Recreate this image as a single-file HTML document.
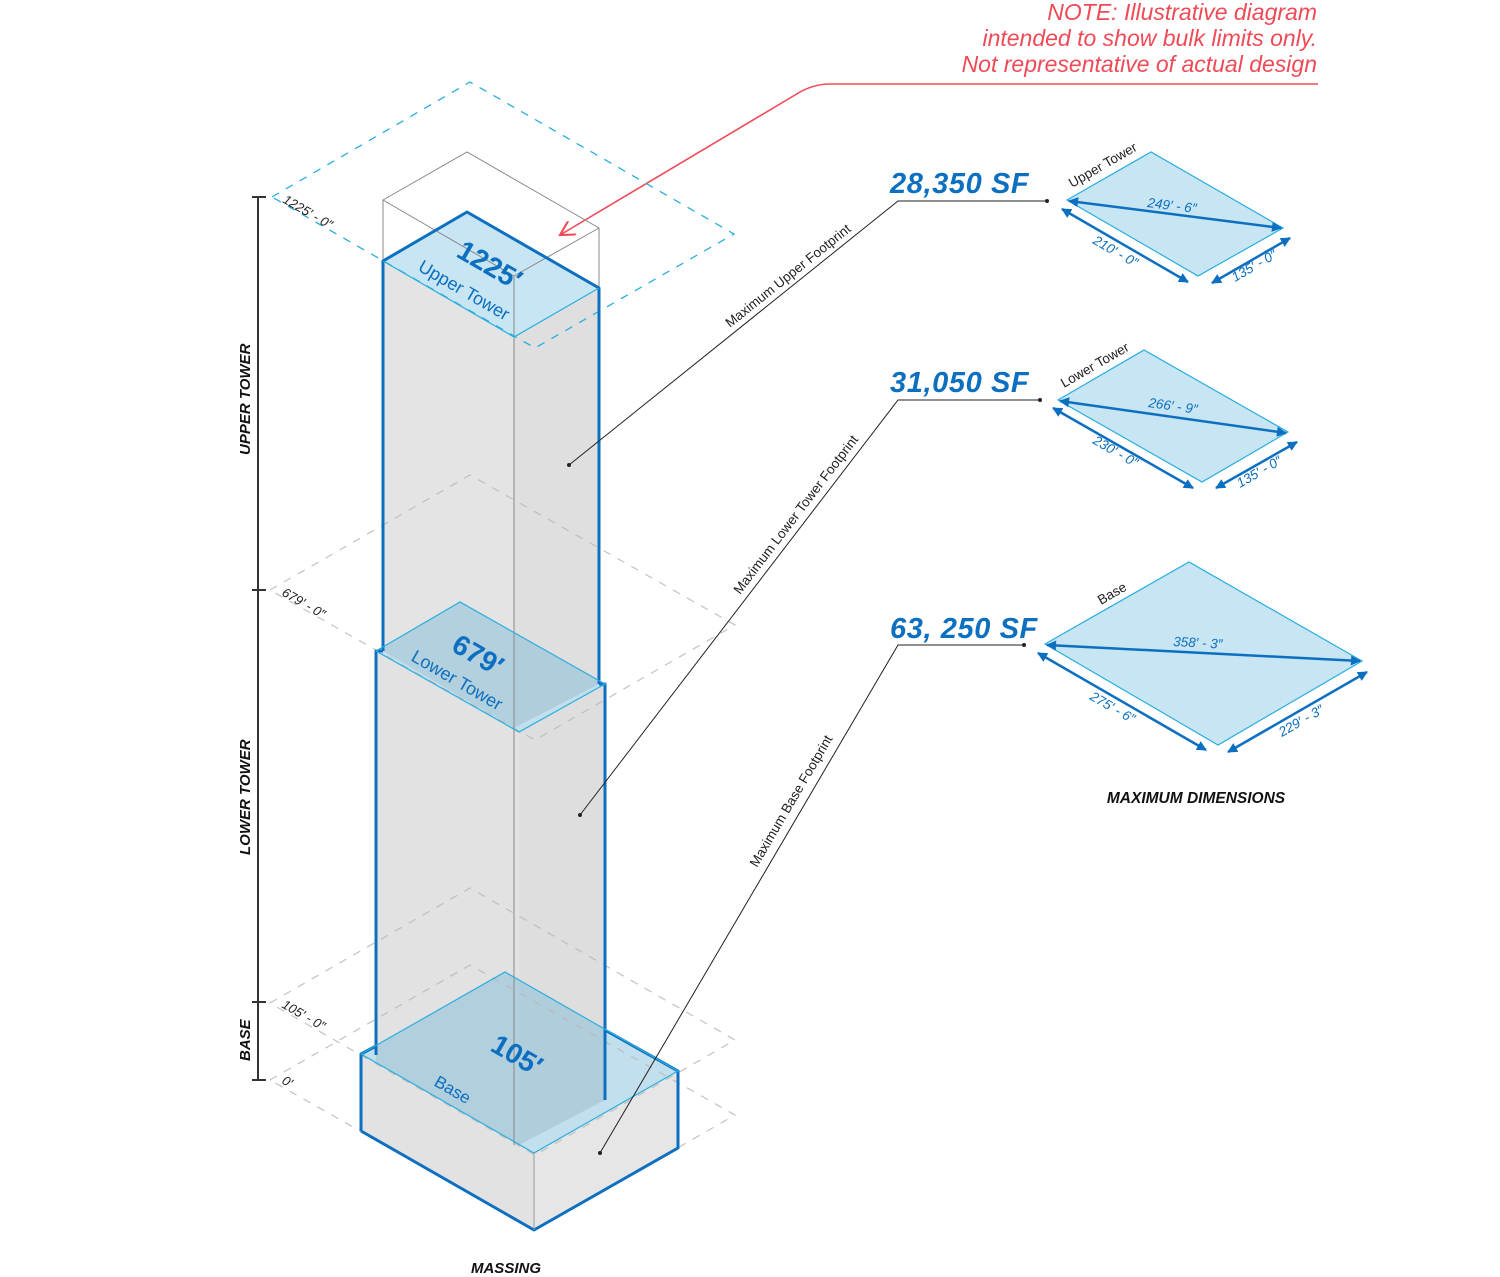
<!DOCTYPE html>
<html><head><meta charset="utf-8"><style>
html,body{margin:0;padding:0;background:#fff;}
svg{display:block;font-family:"Liberation Sans",sans-serif;}
</style></head><body>
<svg width="1500" height="1277" viewBox="0 0 1500 1277" xmlns="http://www.w3.org/2000/svg">
<defs>
<marker id="ah" viewBox="0 0 10 10" refX="9" refY="5" markerWidth="5" markerHeight="4" orient="auto-start-reverse" markerUnits="strokeWidth">
<path d="M0,0 L10,5 L0,10 z" fill="#0d6fc0"/></marker>
<marker id="ra" viewBox="0 0 10 10" refX="9" refY="5" markerWidth="10" markerHeight="10" orient="auto" markerUnits="strokeWidth">
<path d="M0,0 L9,5 L0,10" fill="none" stroke="#ef4a56" stroke-width="1.3"/></marker>
</defs>

<!-- red note -->
<g fill="#ef4a56" font-style="italic" font-size="23" text-anchor="end">
<text x="1317" y="20">NOTE: Illustrative diagram</text>
<text x="1317" y="46">intended to show bulk limits only.</text>
<text x="1317" y="72">Not representative of actual design</text>
</g>
<path d="M1318,84 L830,84 Q812,84 795,95 L560,235" fill="none" stroke="#ef4a56" stroke-width="1.6" marker-end="url(#ra)"/>

<!-- base sides -->
<polygon points="361,1054 534,1153 534,1230 361,1131" fill="#e2e2e2"/>
<polygon points="534,1153 678,1071 678,1148 534,1230" fill="#e6e6e6"/>
<!-- lower tower -->
<polygon points="376,651 519,732 519,1145 376,1062" fill="#e2e2e2"/>
<polygon points="519,732 605,684 605,1100 519,1145" fill="#dedede"/>
<!-- base top (translucent over tower) -->
<polygon points="361,1054 505,972 678,1071 534,1153" fill="rgba(120,185,215,0.45)"/>
<!-- upper tower -->
<polygon points="383,261 514,337 514,728 383,651" fill="#e4e4e4"/>
<polygon points="514,337 599,288 599,684 514,728" fill="#dfdfdf"/>
<polygon points="376,651 460,602 605,684 519,732" fill="rgba(120,185,215,0.45)"/>
<polygon points="383,261 467,212 599,288 514,337" fill="#c7e5f3"/>

<!-- gray dashed planes (visible through) -->
<g fill="none" stroke="#b8b8b8" stroke-width="1.2" stroke-dasharray="8,8" opacity="0.85">
<path d="M270,590 L470,475 L735,625 L535,740 Z"/>
<path d="M270,1003 L470,888 L735,1040 L535,1155 Z"/>
<path d="M270,1080 L470,965 L735,1115 L535,1230 Z"/>
</g>

<!-- ghost box -->
<g fill="none" stroke="#888" stroke-width="1">
<path d="M383,261 L383,200 L467,152 L599,228 L599,288"/>
<path d="M383,200 L514,276 L514,1145"/>
<path d="M514,276 L599,228"/>
</g>
<!-- blue dashed plane -->
<path d="M272,197 L470,82 L734,234 L535,348 Z" fill="none" stroke="#29aee0" stroke-width="1.3" stroke-dasharray="8,8"/>

<!-- blue outlines -->
<g fill="none" stroke="#0d6fc0" stroke-width="3" stroke-linejoin="round">
<path d="M383,651 L383,261 L467,212 L599,288 L599,684"/>
<path d="M376,1055 L376,651 L383,651 M599,684 L605,684 L605,1100"/>
<path d="M361,1131 L361,1054 L376,1046 M605,1030 L678,1071 L678,1148 L534,1230 L361,1131"/>
</g>
<g fill="none" stroke="#29aee0" stroke-width="1.2">
<path d="M383,261 L514,337 L599,288"/>
<path d="M376,651 L460,602 L605,684 L519,732 Z"/>
<path d="M361,1054 L505,972 L678,1071 L534,1153 Z"/>
</g>
<line x1="534" y1="1153" x2="534" y2="1230" stroke="#999" stroke-width="1"/>

<!-- labels on tops -->
<g fill="#0d6fc0">
<text transform="translate(455,256) rotate(30)" font-size="28" font-weight="bold">1225′</text>
<text transform="translate(417,270) rotate(30)" font-size="18">Upper Tower</text>
<text transform="translate(450,650) rotate(30)" font-size="28" font-weight="bold">679′</text>
<text transform="translate(410,660) rotate(30)" font-size="18">Lower Tower</text>
<text transform="translate(489,1050) rotate(30)" font-size="28" font-weight="bold">105′</text>
<text transform="translate(433,1085) rotate(30)" font-size="17">Base</text>
</g>

<!-- scale bar -->
<g stroke="#333" stroke-width="2">
<line x1="258" y1="197" x2="258" y2="1080"/>
<line x1="252" y1="197" x2="266" y2="197"/>
<line x1="252" y1="590" x2="266" y2="590"/>
<line x1="252" y1="1002" x2="266" y2="1002"/>
<line x1="252" y1="1080" x2="266" y2="1080"/>
</g>
<g font-size="15" font-style="italic" font-weight="bold" fill="#111">
<text transform="translate(250,455) rotate(-90)">UPPER TOWER</text>
<text transform="translate(250,855) rotate(-90)">LOWER TOWER</text>
<text transform="translate(250,1061) rotate(-90)">BASE</text>
</g>
<g font-size="13" font-style="italic" fill="#222">
<text transform="translate(282,202) rotate(30)">1225′ - 0″</text>
<text transform="translate(281,595) rotate(30)">679′ - 0″</text>
<text transform="translate(281,1007) rotate(30)">105′ - 0″</text>
<text transform="translate(281,1083) rotate(30)">0′</text>
</g>
<text x="506" y="1273" font-size="15" font-style="italic" font-weight="bold" text-anchor="middle" fill="#111">MASSING</text>

<!-- leaders -->
<g fill="none" stroke="#222" stroke-width="1">
<path d="M1047,201 L898,201 L569,465"/>
<path d="M1040,400 L898,400 L580,815"/>
<path d="M1024,645 L898,645 L600,1153"/>
</g>
<g fill="#222">
<circle cx="569" cy="465" r="2"/><circle cx="580" cy="815" r="2"/><circle cx="600" cy="1153" r="2"/>
<circle cx="1047" cy="201" r="2"/><circle cx="1040" cy="400" r="2"/><circle cx="1024" cy="645" r="2"/>
</g>
<g font-size="13.5" fill="#222">
<text transform="translate(730,328) rotate(-38.7)">Maximum Upper Footprint</text>
<text transform="translate(740,595) rotate(-52.6)">Maximum Lower Tower Footprint</text>
<text transform="translate(757,868) rotate(-59.6)">Maximum Base Footprint</text>
</g>
<g fill="#0d6fc0" font-size="29" font-weight="bold" font-style="italic" letter-spacing="0.6">
<text x="890" y="193">28,350 SF</text>
<text x="890" y="392">31,050 SF</text>
<text x="890" y="638">63, 250 SF</text>
</g>

<!-- footprints -->
<g fill="#c7e5f3" stroke="#29aee0" stroke-width="1.2">
<polygon points="1067,200 1151,152 1283,228 1198,276"/>
<polygon points="1058,400 1144,350 1288,432 1202,482"/>
<polygon points="1045,644 1189,562 1362,661 1218,745"/>
</g>
<g stroke="#0d6fc0" stroke-width="2.5" fill="none" marker-start="url(#ah)" marker-end="url(#ah)">
<line x1="1069" y1="201" x2="1281" y2="228"/>
<line x1="1062" y1="209" x2="1188" y2="282"/>
<line x1="1212" y1="283" x2="1290" y2="238"/>
<line x1="1060" y1="401" x2="1286" y2="433"/>
<line x1="1053" y1="408" x2="1193" y2="488"/>
<line x1="1216" y1="488" x2="1297" y2="442"/>
<line x1="1047" y1="645" x2="1360" y2="661"/>
<line x1="1038" y1="653" x2="1206" y2="750"/>
<line x1="1228" y1="752" x2="1367" y2="672"/>
</g>
<g fill="#0d6fc0" font-size="13.5" font-style="italic">
<text transform="translate(1147,207) rotate(7)">249′ - 6″</text>
<text transform="translate(1092,243) rotate(30)">210′ - 0″</text>
<text transform="translate(1235,282) rotate(-30)">135′ - 0″</text>
<text transform="translate(1148,407) rotate(8)">266′ - 9″</text>
<text transform="translate(1092,443) rotate(30)">230′ - 0″</text>
<text transform="translate(1240,488) rotate(-30)">135′ - 0″</text>
<text transform="translate(1173,646) rotate(3)">358′ - 3″</text>
<text transform="translate(1089,699) rotate(30)">275′ - 6″</text>
<text transform="translate(1282,737) rotate(-30)">229′ - 3″</text>
</g>
<g fill="#222" font-size="13.5">
<text transform="translate(1072,188) rotate(-30)">Upper Tower</text>
<text transform="translate(1064,388) rotate(-30)">Lower Tower</text>
<text transform="translate(1101,605) rotate(-30)">Base</text>
</g>
<text x="1196" y="803" font-size="15.5" font-style="italic" font-weight="bold" text-anchor="middle" fill="#111">MAXIMUM DIMENSIONS</text>
</svg>
</body></html>
